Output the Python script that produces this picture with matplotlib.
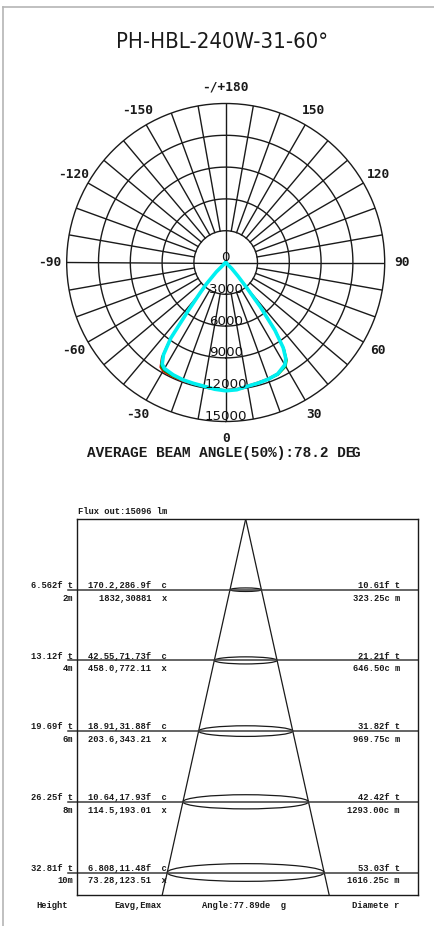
import matplotlib
matplotlib.use("Agg")
import matplotlib.pyplot as plt
import numpy as np
import matplotlib.transforms as mtransforms
from matplotlib import font_manager
from matplotlib.patches import Ellipse
from matplotlib.lines import Line2D

# ---- data ----
title = "PH-HBL-240W-31-60°"
beam_text = "AVERAGE BEAM ANGLE(50%):78.2 DE"
flux_text = "Flux out:15096 lm"

# polar intensity curves (cd), gamma in degrees, left = negative side
gamma = [0, 5, 10, 15, 20, 25, 30, 32, 34, 36, 38, 40, 42, 45, 50, 60, 90, 180]
red_left = [12050, 11950, 11850, 11850, 11900, 11900, 11850, 11650, 10800, 8900, 5500, 3700, 2600, 1200, 0, 0, 0, 0]
red_right = [12000, 11950, 11800, 11700, 11650, 11550, 11200, 10800, 9800, 7900, 5200, 2800, 1600, 700, 0, 0, 0, 0]
green_left = [12050, 11950, 11800, 11800, 11850, 11850, 11750, 11550, 10700, 8900, 5600, 3800, 2700, 1250, 0, 0, 0, 0]
green_right = [12050, 12000, 11850, 11800, 11750, 11700, 11350, 10900, 9900, 8000, 5300, 2900, 1700, 800, 0, 0, 0, 0]
blue_left = [12100, 12000, 11850, 11800, 11800, 11750, 11650, 11400, 10600, 8950, 5700, 3900, 2800, 1300, 0, 0, 0, 0]
blue_right = [12100, 12050, 11900, 11800, 11750, 11650, 11250, 10800, 9800, 8000, 5400, 3000, 1750, 850, 0, 0, 0, 0]
cyan_left = [12100, 12000, 11850, 11800, 11780, 11700, 11550, 11300, 10500, 8800, 5600, 3800, 2700, 1250, 0, 0, 0, 0]
cyan_right = [12100, 12050, 11850, 11780, 11720, 11600, 11150, 10700, 9700, 7900, 5300, 2900, 1700, 800, 0, 0, 0, 0]

ring_values = [0, 3000, 6000, 9000, 12000, 15000]
angle_ticks = [0, 30, 60, 90, 120, 150, 180, -150, -120, -90, -60, -30]
angle_labels = ["0", "30", "60", "90", "120", "150", "-/+180",
                "-150", "-120", "-90", "-60", "-30"]

# beam table
heights = [2, 4, 6, 8, 10]
diameters = [3.2325, 6.465, 9.6975, 12.93, 16.1625]
height_ft = ["6.562f t", "13.12f t", "19.69f t", "26.25f t", "32.81f t"]
height_m = ["2m", "4m", "6m", "8m", "10m"]
e_fc = ["170.2,286.9f  c", "42.55,71.73f  c", "18.91,31.88f  c",
        "10.64,17.93f  c", "6.808,11.48f  c"]
e_lx = ["1832,30881  x", "458.0,772.11  x", "203.6,343.21  x",
        "114.5,193.01  x", "73.28,123.51  x"]
diam_ft = ["10.61f t", "21.21f t", "31.82f t", "42.42f t", "53.03f t"]
diam_cm = ["323.25c m", "646.50c m", "969.75c m", "1293.00c m", "1616.25c m"]
footer = ["Height", "Eavg,Emax", "Angle:77.89de  g", "Diamete r"]

W, H = 434, 926
ink = "#1a1a1a"
mono = ["Liberation Mono", "DejaVu Sans Mono"]

# pick a narrow face for the title if one is installed
names = {f.name for f in font_manager.fontManager.ttflist}
stretches = {(f.name, f.stretch) for f in font_manager.fontManager.ttflist}
title_kw = dict(family=["DejaVu Sans"], fontsize=14.5)
if "Liberation Sans Narrow" in names:
    title_kw = dict(family=["Liberation Sans Narrow", "DejaVu Sans"], fontsize=15.8)
elif any(n == "Noto Sans" and s in ("condensed", 75, "semi-condensed", 87.5)
         for n, s in stretches):
    title_kw = dict(family=["Noto Sans", "DejaVu Sans"], fontsize=15.8,
                    stretch="condensed")
elif "DejaVu Sans" in names:
    title_kw = dict(family=["DejaVu Sans"], fontsize=15.8, stretch="condensed")

fig = plt.figure(figsize=(W / 100, H / 100), dpi=100)
fig.patch.set_facecolor("white")

# frame lines top/left
fig.add_artist(Line2D([3 / W, 3 / W], [0, 1 - 7 / H], color="#b5b5b5", lw=1.2))
fig.add_artist(Line2D([3 / W, 1], [1 - 7 / H, 1 - 7 / H], color="#b5b5b5", lw=1.2))

fig.text(222 / W, 1 - 42.5 / H, title, ha="center", va="center",
         color=ink, **title_kw)

# ---- polar diagram ----
cx, cy, R = 225.7, 262.5, 159
ax = fig.add_axes([(cx - R) / W, (H - cy - R) / H, 2 * R / W, 2 * R / H],
                  projection="polar")
ax.set_theta_zero_location("S")
ax.set_theta_direction(1)
rmax = ring_values[-1]
ax.set_ylim(0, rmax)
ax.set_xticks([])
ax.set_yticks([])
ax.grid(False)
ax.spines["polar"].set_color(ink)
ax.spines["polar"].set_linewidth(1.0)

th = np.linspace(0, 2 * np.pi, 361)
for rv in ring_values[1:-1]:
    ax.plot(th, np.full_like(th, rv), color=ink, lw=1.0, zorder=1)
for a in range(0, 360, 10):
    r0 = 0 if a % 90 == 0 else ring_values[1]
    ax.plot([np.radians(a)] * 2, [r0, rmax], color=ink, lw=1.0, zorder=1)

curves = [(red_left, red_right, "#e00000", 1.2),
          (green_left, green_right, "#00b000", 1.2),
          (blue_left, blue_right, "#0000ff", 1.2),
          (cyan_left, cyan_right, "#00f0f0", 2.6)]
g = np.radians(gamma)
for left, right, col, lw in curves:
    t = np.concatenate([-g[::-1], g])
    r = np.concatenate([left[::-1], right])
    ax.plot(t, r, color=col, lw=lw, zorder=3, solid_joinstyle="round")

for rv in ring_values:
    ax.annotate(str(rv), xy=(0, rv), xytext=(0, 3.6), textcoords="offset points",
                ha="center", va="center", fontsize=9.6, color="#111111", zorder=5,
                annotation_clip=False)

for a, lab in zip(angle_ticks, angle_labels):
    ax.text(np.radians(a), rmax * 176 / R, lab, ha="center", va="center",
            fontsize=9.3, family=["DejaVu Sans Mono"], weight="bold", color=ink,
            clip_on=False)

fig.text(86.7 / W, 1 - 453.5 / H, beam_text, ha="left", va="center",
         fontsize=10.4, family=mono, weight="bold", color=ink)
fig.text(351 / W, 1 - 453.5 / H, "G", ha="left", va="center",
         fontsize=10.4, family=mono, weight="bold", color=ink)

# ---- beam table ----
x0, x1, y0, y1 = 77.3, 418, 519, 895
bx = fig.add_axes([x0 / W, (H - y1) / H, (x1 - x0) / W, (y1 - y0) / H])
px_per_m = 35.35
bottom = (y1 - y0) / px_per_m
bx.set_ylim(bottom, 0)
bx.set_xlim(-168.4 / 9.71, 172.3 / 9.71)
bx.set_xticks([])
bx.set_yticks([])
for s in bx.spines.values():
    s.set_color(ink)
    s.set_linewidth(1.0)

spread = diameters[-1] / heights[-1] / 2
for sgn in (-1, 1):
    bx.plot([0, sgn * spread * bottom], [0, bottom], color=ink, lw=0.9)

trans = mtransforms.blended_transform_factory(bx.transAxes, bx.transData)
fs = 6.3
for h, d, a1, a2, b1, b2, c1, c2 in zip(heights, diameters, height_ft, height_m,
                                       e_fc, e_lx, diam_ft, diam_cm):
    bx.plot([-0.027, 1], [h, h], color="#3a3a3a", lw=1.1, transform=trans,
            clip_on=False)
    bx.add_patch(Ellipse((0, h), width=d, height=0.031 * d, fill=False,
                         ec=ink, lw=0.9))
    for xf, top, low in ((-0.013, a1, a2), (0.263, b1, b2), (0.947, c1, c2)):
        bx.annotate(top, xy=(xf, h), xycoords=trans, xytext=(0, 1.2),
                    textcoords="offset points", ha="right", va="baseline",
                    fontsize=fs, family=mono, weight="bold", color=ink,
                    annotation_clip=False)
        bx.annotate(low, xy=(xf, h), xycoords=trans, xytext=(0, -6.0),
                    textcoords="offset points", ha="right", va="center",
                    fontsize=fs, family=mono, weight="bold", color=ink,
                    annotation_clip=False)

bx.text(0.002, 1.021, flux_text, transform=bx.transAxes, ha="left", va="center",
        fontsize=fs, family=mono, weight="bold", color=ink)
for xf, lab in zip([-0.075, 0.178, 0.489, 0.877], footer):
    bx.text(xf, -0.0285, lab, transform=bx.transAxes, ha="center", va="center",
            fontsize=fs, family=mono, weight="bold", color=ink)

fig.savefig("out.png", dpi=100, facecolor="white")
